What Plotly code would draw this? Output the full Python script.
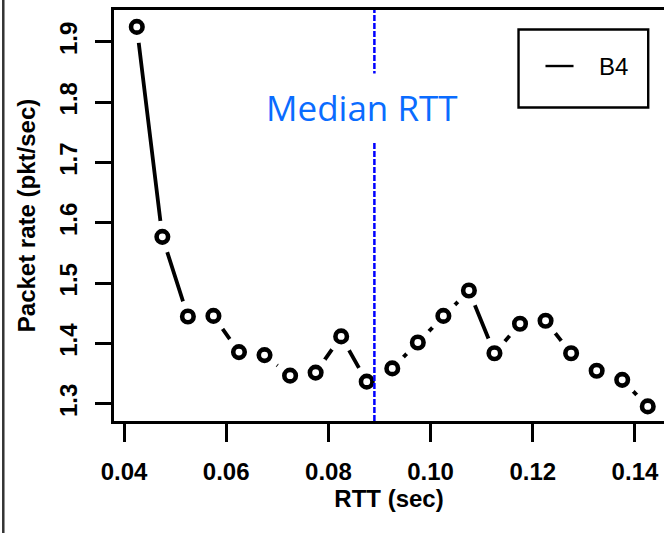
import plotly.graph_objects as go

# Packet rate measured in each RTT bin (bin centres, seconds)
rtt_sec = [0.0425, 0.0475, 0.0525, 0.0575, 0.0625, 0.0675, 0.0725,
           0.0775, 0.0825, 0.0875, 0.0925, 0.0975, 0.1025, 0.1075,
           0.1125, 0.1175, 0.1225, 0.1275, 0.1325, 0.1375, 0.1425]
pkt_rate = [1.925, 1.577, 1.445, 1.446, 1.386, 1.381, 1.347,
            1.352, 1.412, 1.337, 1.359, 1.402, 1.446, 1.488,
            1.384, 1.433, 1.438, 1.384, 1.355, 1.340, 1.296]
series_name = "B4"
median_rtt = 0.089
median_label = "Median RTT"

x_ticks = [0.04, 0.06, 0.08, 0.10, 0.12, 0.14]
x_tick_text = ["0.04", "0.06", "0.08", "0.10", "0.12", "0.14"]
y_ticks = [1.3, 1.4, 1.5, 1.6, 1.7, 1.8, 1.9]
y_tick_text = ["1.3", "1.4", "1.5", "1.6", "1.7", "1.8", "1.9"]

axis_font = dict(family="Liberation Sans, Arial, sans-serif", size=24,
                 color="black", weight="bold")

fig = go.Figure()

# connecting line (type "b": segments stop short of each point)
fig.add_trace(go.Scatter(x=rtt_sec, y=pkt_rate, mode="lines",
                         line=dict(color="black", width=3.8),
                         hoverinfo="skip", showlegend=False))
# white discs open the gap around every point
fig.add_trace(go.Scatter(x=rtt_sec, y=pkt_rate, mode="markers",
                         marker=dict(symbol="circle", size=32, color="white",
                                     line=dict(width=0)),
                         hoverinfo="skip", showlegend=False))
# open circle markers
fig.add_trace(go.Scatter(x=rtt_sec, y=pkt_rate, mode="markers",
                         name=series_name,
                         marker=dict(symbol="circle", size=11.5, color="white",
                                     line=dict(color="black", width=4.6)),
                         showlegend=False))

# median RTT marker line
fig.add_shape(type="line", xref="x", yref="y domain",
              x0=median_rtt, x1=median_rtt, y0=0, y1=1,
              line=dict(color="#0000ff", width=2.5, dash="6px,2px"),
              layer="above")
fig.add_annotation(text=median_label, xref="paper", yref="paper",
                   x=0.4518, y=0.762, xanchor="center", yanchor="middle",
                   showarrow=False, bgcolor="white", borderpad=10,
                   font=dict(family="Open Sans, sans-serif", size=35,
                             color="#0a6cff"))

# legend box
fig.add_shape(type="rect", xref="paper", yref="paper",
              x0=0.7355, x1=0.9713, y0=0.7627, y1=0.9524,
              line=dict(color="black", width=2.4), fillcolor="white",
              layer="above")
fig.add_shape(type="line", xref="paper", yref="paper",
              x0=0.7845, x1=0.8355, y0=0.8637, y1=0.8637,
              line=dict(color="black", width=2.4), layer="above")
fig.add_annotation(text=series_name, xref="paper", yref="paper",
                   x=0.8780, y=0.8637, xanchor="left", yanchor="middle",
                   showarrow=False,
                   font=dict(family="Liberation Sans, Arial, sans-serif",
                             size=24, color="black"))

# outer page border on the left
fig.add_shape(type="line", xref="paper", yref="paper",
              x0=-0.2013, x1=-0.2013, y0=-0.28, y1=1.03,
              line=dict(color="#333333", width=2.5))

fig.update_layout(
    width=664, height=533,
    margin=dict(l=114, r=0, t=10, b=112),
    paper_bgcolor="white", plot_bgcolor="white",
    showlegend=False,
    xaxis=dict(range=[0.03804, 0.14568], tickvals=x_ticks,
               ticktext=x_tick_text, ticks="outside", ticklen=18,
               tickwidth=2.5, tickcolor="black", showline=True,
               linecolor="black", linewidth=3, mirror=True,
               showgrid=False, zeroline=False, tickfont=axis_font,
               ticklabelstandoff=9,
               title=dict(text="RTT (sec)", font=axis_font, standoff=2)),
    yaxis=dict(range=[1.2718, 1.953], tickvals=y_ticks,
               ticktext=y_tick_text, ticks="outside", ticklen=16,
               tickwidth=2.5, tickcolor="black", showline=True,
               linecolor="black", linewidth=3, mirror=False,
               showgrid=False, zeroline=False, tickfont=axis_font,
               tickangle=-90, ticklabelstandoff=8,
               title=dict(text="Packet rate (pkt/sec)", font=axis_font,
                          standoff=14)),
)

fig.write_html("out.html")
